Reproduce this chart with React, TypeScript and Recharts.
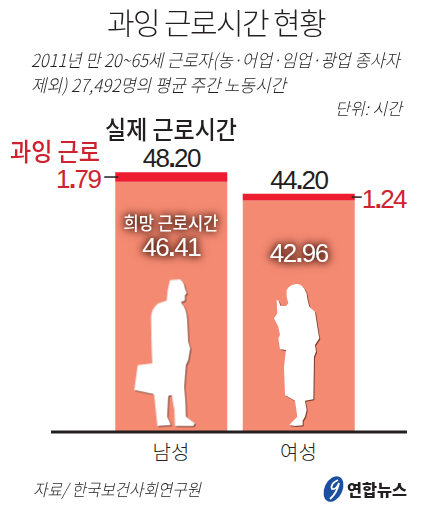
import React from 'react'
import { BarChart, Bar, XAxis, YAxis, LabelList } from 'recharts'

const categories = ['남성', '여성']
const wantedHours = [46.41, 42.96]
const overHours = [1.79, 1.24]
const actualHours = [48.2, 44.2]

const data = categories.map((name, i) => ({
  name,
  wanted: wantedHours[i],
  over: overHours[i],
  actual: actualHours[i],
}))

const KR = '"Noto Sans CJK KR", "Noto Sans", sans-serif'
const NUM = '"Liberation Sans", Arial, sans-serif'
const DARK = '#231f20'
const RED = '#cf2230'
const SALMON = '#f48a72'
const WANTED_LABEL_DROP = [74, 62]

const glow = 'drop-shadow(0 0 3px #5a2418) drop-shadow(0 0 4px #5a2418)'

// numbers in the original have a small heavy square point
const Num = ({ value }: { value: string }) => {
  const [a, b] = value.split('.')
  return (
    <>
      {a}
      <tspan fontWeight={700}>.</tspan>
      {b}
    </>
  )
}

const box = (p: any) => {
  const v = p.viewBox ?? p
  return { x: Number(v.x), y: Number(v.y), width: Number(v.width), height: Number(v.height) }
}

const ActualLabel = (p: any) => {
  const { x, y, width } = box(p)
  return (
    <text x={x + width / 2} y={y - 5} textAnchor="middle" fontFamily={NUM} fontSize={26} fill={DARK} letterSpacing={-1.6}>
      <Num value={Number(p.value).toFixed(2)} />
    </text>
  )
}

const OverLabel = (p: any) => {
  const { x, y, width, height } = box(p)
  const mid = y + height / 2
  const left = p.index === 0
  const x1 = left ? x - 11 : x + width - 3
  const x2 = left ? x + 3 : x + width + 7
  return (
    <g>
      <line x1={x1} x2={x2} y1={mid} y2={mid} stroke={DARK} strokeWidth={1.5} />
      <text
        x={left ? x - 15 : x + width + 7}
        y={mid + 11}
        textAnchor={left ? 'end' : 'start'}
        fontFamily={NUM}
        fontSize={26}
        fill={RED}
        letterSpacing={-1.6}
      >
        <Num value={Number(p.value).toFixed(2)} />
      </text>
    </g>
  )
}

const WantedLabel = (p: any) => {
  const { x, y, width } = box(p)
  return (
    <text
      x={x + width / 2}
      y={y + WANTED_LABEL_DROP[p.index]}
      textAnchor="middle"
      fontFamily={NUM}
      fontSize={26}
      fill="#fff"
      letterSpacing={-1.4}
      style={{ filter: glow }}
    >
      <Num value={Number(p.value).toFixed(2)} />
    </text>
  )
}

const Silhouettes = () => (
  <svg width={435} height={515} style={{ position: 'absolute', left: 0, top: 0 }}>
    <g fill="#fff" style={{ filter: 'drop-shadow(1px 1px 0.6px #7a3c2e)' }}>
      <path
        transform="translate(125,270) scale(0.3333)"
        d="M135 30 L165 28 Q178 35 180 55 L186 70 L180 75 L180 92 L168 96 L170 100 Q185 115 187 150 L190 215 L196 235 L190 270 L183 285 L178 350 L182 400 L183 440 L210 460 L205 468 L150 468 L148 420 L140 375 L130 378 L127 440 L138 465 L97 468 L88 380 L85 372 L28 360 L38 285 L82 280 L80 240 L78 140 Q80 115 100 100 L125 92 L128 60 Z"
      />
      <path
        transform="translate(260,270) scale(0.3333)"
        d="M80 60 Q90 42 115 42 Q140 50 143 90 L148 110 L165 125 L175 190 L178 205 L165 225 L168 245 L162 260 L160 388 L135 392 L140 420 L135 440 L128 452 L128 466 L105 468 L88 465 L100 452 L112 440 L105 392 L75 375 L72 290 L78 240 L60 238 L55 205 L60 195 L55 170 L42 145 L52 130 L50 90 L56 92 L62 108 L78 108 L85 100 L80 80 Z"
      />
    </g>
  </svg>
)

const Texts = () => (
  <svg width={435} height={515} style={{ position: 'absolute', left: 0, top: 0 }} fontFamily={KR}>
    <text x={107} y={34} fontSize={30} fontWeight={300} fill={DARK} letterSpacing={-1.6}>
      과잉 근로시간 현황
    </text>
    <g fontStyle="italic" fontWeight={300} fill={DARK} fontSize={18}>
      <text x={31} y={67} textLength={369} lengthAdjust="spacingAndGlyphs">
        2011년 만 20~65세 근로자(농·어업·임업·광업 종사자
      </text>
      <text x={31} y={92} textLength={255} lengthAdjust="spacingAndGlyphs">
        제외) 27,492명의 평균 주간 노동시간
      </text>
      <text x={335} y={115} fontSize={17} textLength={67} lengthAdjust="spacingAndGlyphs">
        단위: 시간
      </text>
      <text x={33} y={496} fontSize={17} textLength={168} lengthAdjust="spacingAndGlyphs">
        자료/ 한국보건사회연구원
      </text>
    </g>
    <text x={105} y={139} fontSize={25} fontWeight={500} fill={DARK} textLength={132} lengthAdjust="spacingAndGlyphs">
      실제 근로시간
    </text>
    <text x={10} y={161} fontSize={25} fontWeight={500} fill={RED} textLength={90} lengthAdjust="spacingAndGlyphs">
      과잉 근로
    </text>
    <text
      x={171}
      y={230}
      textAnchor="middle"
      fontSize={18}
      fontWeight={500}
      fill="#fff"
      textLength={95}
      lengthAdjust="spacingAndGlyphs"
      style={{ filter: glow }}
    >
      희망 근로시간
    </text>
    {/* 연합뉴스 logo */}
    <ellipse cx={333.5} cy={489} rx={9} ry={13.5} transform="rotate(25 333.5 489)" fill="#1b4f9f" />
    <path d="M338 480 Q330 484 332 489 Q336 490 339 483 Q337 493 330 499" fill="none" stroke="#fff" strokeWidth={1.8} />
    <text x={347} y={496} fontSize={16} fontWeight={900} fill={DARK} textLength={60} lengthAdjust="spacingAndGlyphs">
      연합뉴스
    </text>
  </svg>
)

export default function App() {
  return (
    <div style={{ position: 'absolute', left: 0, top: 0, width: 435, height: 515, background: '#fff', overflow: 'hidden' }}>
      <BarChart width={435} height={515} data={data} margin={{ top: 162.5, right: 28, bottom: 0, left: 51 }} barCategoryGap={0}>
        <YAxis hide domain={[0, 50]} />
        <XAxis
          dataKey="name"
          height={83}
          interval={0}
          padding={{ left: 56.25, right: 44.75 }}
          tickLine={false}
          tickMargin={8}
          axisLine={{ stroke: DARK, strokeWidth: 3 }}
          tick={{ fill: DARK, fontSize: 20, fontFamily: KR, fontWeight: 300 }}
        />
        <Bar dataKey="wanted" stackId="hours" fill={SALMON} barSize={112} isAnimationActive={false}>
          <LabelList dataKey="wanted" content={WantedLabel} />
        </Bar>
        <Bar dataKey="over" stackId="hours" fill="#ed1c2e" barSize={112} isAnimationActive={false}>
          <LabelList dataKey="actual" content={ActualLabel} />
          <LabelList dataKey="over" content={OverLabel} />
        </Bar>
      </BarChart>
      <Silhouettes />
      <Texts />
    </div>
  )
}
